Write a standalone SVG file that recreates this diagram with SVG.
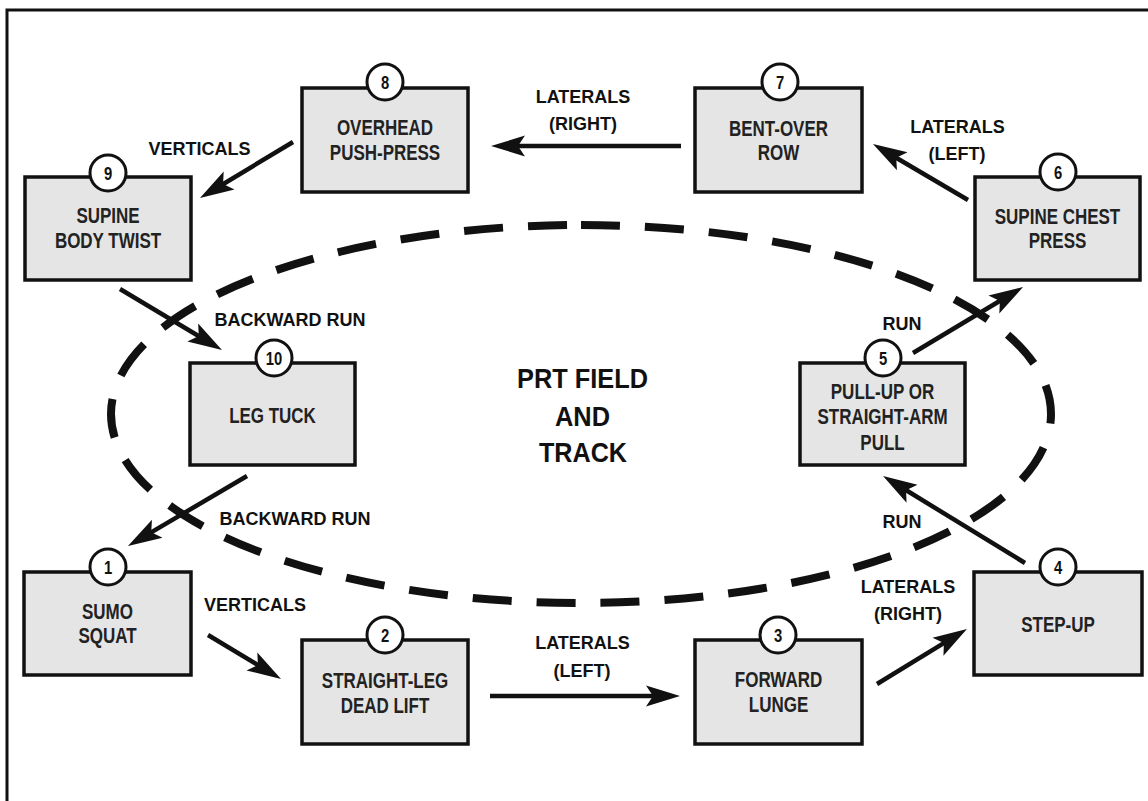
<svg xmlns="http://www.w3.org/2000/svg" width="1148" height="801" viewBox="0 0 1148 801">
<style>
.box{fill:#e5e5e5;stroke:#111;stroke-width:3.5}
.num{fill:#fff;stroke:#111;stroke-width:3}
.bt{font-family:"Liberation Sans",Arial,sans-serif;font-weight:bold;font-size:21.5px;fill:#222;text-anchor:middle}
.nt{font-family:"Liberation Sans",Arial,sans-serif;font-weight:bold;font-size:18.5px;fill:#111;text-anchor:middle}
.lbl{font-family:"Liberation Sans",Arial,sans-serif;font-weight:bold;font-size:18px;fill:#111;text-anchor:middle}
.ctr{font-family:"Liberation Sans",Arial,sans-serif;font-weight:bold;font-size:28px;fill:#111;text-anchor:middle}
.conn line{stroke:#111;stroke-width:4.5;marker-end:url(#ah)}
</style>
<defs>
<marker id="ah" markerUnits="userSpaceOnUse" markerWidth="36" markerHeight="24" refX="14" refY="12" orient="auto">
<path d="M34,12 L0,1.5 L7,12 L0,22.5 Z" fill="#111"/>
</marker>
</defs>
<rect x="0" y="0" width="1148" height="801" fill="#fff"/>
<g id="frame" fill="none" stroke="#111" stroke-width="3">
<path d="M1148,10 L7,10 L7,801"/>
</g>
<g id="track">
<path d="M581,225 A470,189 0 0 1 581,603 A470,189 0 0 1 581,225" fill="none" stroke="#111" stroke-width="8" stroke-dasharray="39 25"/>
<text class="ctr" x="582.5" y="388" textLength="131" lengthAdjust="spacingAndGlyphs">PRT FIELD</text>
<text class="ctr" x="582.5" y="426" textLength="55" lengthAdjust="spacingAndGlyphs">AND</text>
<text class="ctr" x="583" y="462" textLength="88" lengthAdjust="spacingAndGlyphs">TRACK</text>
</g>
<g id="connectors" class="conn">
<line x1="293" y1="142" x2="217.1" y2="187.7"/>
<line x1="681" y1="146" x2="511" y2="146"/>
<line x1="968" y1="200" x2="890.2" y2="154.2"/>
<line x1="120" y1="289" x2="204.8" y2="339.7"/>
<line x1="247" y1="476" x2="145.2" y2="535.9"/>
<line x1="208" y1="635" x2="263.9" y2="668.7"/>
<line x1="490" y1="696" x2="660" y2="696"/>
<line x1="877" y1="684" x2="949.9" y2="639.4"/>
<line x1="1025" y1="563" x2="900.1" y2="486.5"/>
<line x1="913" y1="353" x2="1005.9" y2="297.3"/>
</g>
<g id="labels">
<text class="lbl" x="199.5" y="155">VERTICALS</text>
<text class="lbl" x="583" y="103">LATERALS</text>
<text class="lbl" x="583" y="130">(RIGHT)</text>
<text class="lbl" x="957.5" y="133">LATERALS</text>
<text class="lbl" x="957" y="160">(LEFT)</text>
<text class="lbl" x="290" y="326">BACKWARD RUN</text>
<text class="lbl" x="295" y="525">BACKWARD RUN</text>
<text class="lbl" x="255" y="611">VERTICALS</text>
<text class="lbl" x="582.5" y="649">LATERALS</text>
<text class="lbl" x="582" y="677">(LEFT)</text>
<text class="lbl" x="908" y="593">LATERALS</text>
<text class="lbl" x="908" y="620">(RIGHT)</text>
<text class="lbl" x="902" y="330">RUN</text>
<text class="lbl" x="902" y="528">RUN</text>
</g>
<g id="node1">
<rect class="box" x="24" y="572" width="167" height="103"/>
<circle class="num" cx="108" cy="567" r="18"/>
<g transform="translate(108,0) scale(0.8,1)"><text class="nt" x="0" y="574">1</text></g>
<g transform="translate(107.5,0) scale(0.79,1)"><text class="bt" x="0" y="619">SUMO</text><text class="bt" x="0" y="643">SQUAT</text></g>
</g>
<g id="node2">
<rect class="box" x="302" y="640" width="166" height="104"/>
<circle class="num" cx="385" cy="635" r="18"/>
<g transform="translate(385,0) scale(0.8,1)"><text class="nt" x="0" y="642">2</text></g>
<g transform="translate(385,0) scale(0.79,1)"><text class="bt" x="0" y="688">STRAIGHT-LEG</text><text class="bt" x="0" y="713">DEAD LIFT</text></g>
</g>
<g id="node3">
<rect class="box" x="695" y="640" width="167" height="104"/>
<circle class="num" cx="778" cy="635" r="18"/>
<g transform="translate(778,0) scale(0.8,1)"><text class="nt" x="0" y="642">3</text></g>
<g transform="translate(778.5,0) scale(0.79,1)"><text class="bt" x="0" y="687">FORWARD</text><text class="bt" x="0" y="712">LUNGE</text></g>
</g>
<g id="node4">
<rect class="box" x="974" y="572" width="168" height="103"/>
<circle class="num" cx="1058" cy="567" r="18"/>
<g transform="translate(1058,0) scale(0.8,1)"><text class="nt" x="0" y="574">4</text></g>
<g transform="translate(1058,0) scale(0.79,1)"><text class="bt" x="0" y="632">STEP-UP</text></g>
</g>
<g id="node5">
<rect class="box" x="800" y="363" width="165" height="102"/>
<circle class="num" cx="883" cy="358" r="18"/>
<g transform="translate(883,0) scale(0.8,1)"><text class="nt" x="0" y="365">5</text></g>
<g transform="translate(882.5,0) scale(0.79,1)"><text class="bt" x="0" y="399">PULL-UP OR</text><text class="bt" x="0" y="424.5">STRAIGHT-ARM</text><text class="bt" x="0" y="450">PULL</text></g>
</g>
<g id="node6">
<rect class="box" x="975" y="177" width="165" height="103"/>
<circle class="num" cx="1058" cy="172" r="18"/>
<g transform="translate(1058,0) scale(0.8,1)"><text class="nt" x="0" y="179">6</text></g>
<g transform="translate(1057.5,0) scale(0.79,1)"><text class="bt" x="0" y="224">SUPINE CHEST</text><text class="bt" x="0" y="248">PRESS</text></g>
</g>
<g id="node7">
<rect class="box" x="695" y="88" width="167" height="104"/>
<circle class="num" cx="780" cy="82" r="18"/>
<g transform="translate(780,0) scale(0.8,1)"><text class="nt" x="0" y="89">7</text></g>
<g transform="translate(778.5,0) scale(0.79,1)"><text class="bt" x="0" y="136">BENT-OVER</text><text class="bt" x="0" y="160">ROW</text></g>
</g>
<g id="node8">
<rect class="box" x="302" y="88" width="166" height="104"/>
<circle class="num" cx="385" cy="82" r="18"/>
<g transform="translate(385,0) scale(0.8,1)"><text class="nt" x="0" y="89">8</text></g>
<g transform="translate(385,0) scale(0.79,1)"><text class="bt" x="0" y="135.5">OVERHEAD</text><text class="bt" x="0" y="160">PUSH-PRESS</text></g>
</g>
<g id="node9">
<rect class="box" x="25" y="177" width="166" height="103"/>
<circle class="num" cx="108" cy="173" r="18"/>
<g transform="translate(108,0) scale(0.8,1)"><text class="nt" x="0" y="180">9</text></g>
<g transform="translate(108,0) scale(0.79,1)"><text class="bt" x="0" y="223">SUPINE</text><text class="bt" x="0" y="248">BODY TWIST</text></g>
</g>
<g id="node10">
<rect class="box" x="190" y="363" width="165" height="102"/>
<circle class="num" cx="274" cy="358" r="18"/>
<g transform="translate(274,0) scale(0.8,1)"><text class="nt" x="0" y="365">10</text></g>
<g transform="translate(272.5,0) scale(0.79,1)"><text class="bt" x="0" y="423">LEG TUCK</text></g>
</g>
</svg>
